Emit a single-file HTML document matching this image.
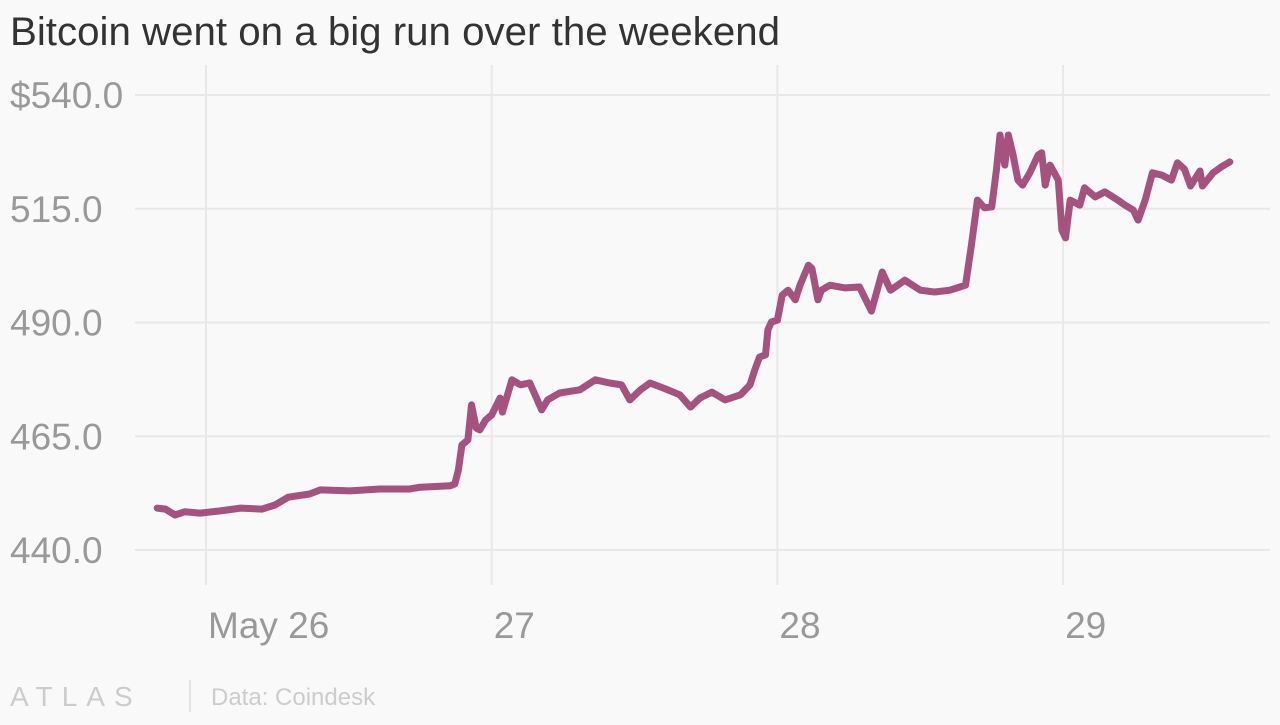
<!DOCTYPE html>
<html><head><meta charset="utf-8"><style>
html,body{margin:0;padding:0;background:#f9f9fa;}
body{width:1280px;height:720px;overflow:hidden;font-family:"Liberation Sans",sans-serif;}
</style></head><body>
<svg width="1280" height="720" xmlns="http://www.w3.org/2000/svg">
<rect width="1280" height="720" fill="#f9f9fa"/>
<text x="10" y="45" font-size="40" fill="#333" textLength="770" lengthAdjust="spacingAndGlyphs">Bitcoin went on a big run over the weekend</text>
<g id="grid"></g>
<g id="ylab"></g>
<g id="xlab"></g>
<path id="line" fill="none" stroke="#a5527f" stroke-width="7" stroke-linejoin="round" stroke-linecap="round"/>
<text x="10" y="706" font-size="28" fill="#ccc" letter-spacing="9">ATLAS</text>
<line x1="190" y1="680" x2="190" y2="712" stroke="#ddd" stroke-width="1.5"/>
<text x="211" y="705" font-size="24" fill="#ccc">Data: Coindesk</text>
</svg>
<script>
const hours=[-4.1,-3.4,-2.6,-1.8,-0.5,1.2,2.9,4.7,5.8,6.9,8.7,9.6,12.1,14.6,17.1,18.0,20.5,20.9,21.2,21.5,22.0,22.3,22.7,23.0,23.5,24.0,24.7,24.9,25.7,26.4,27.2,28.2,28.7,29.7,31.4,32.7,33.9,34.9,35.6,36.5,37.3,38.6,39.8,40.7,41.5,42.5,43.6,44.9,45.7,46.1,46.5,47.0,47.2,47.5,48.0,48.4,48.9,49.5,49.9,50.6,50.9,51.4,51.7,52.4,53.7,54.9,55.9,56.8,57.5,58.7,60.0,61.2,62.5,63.8,64.3,64.8,65.4,66.0,66.4,66.7,67.1,67.4,67.8,68.2,68.6,69.2,69.9,70.2,70.5,70.9,71.6,71.9,72.2,72.6,73.4,73.8,74.7,75.5,76.6,77.2,77.9,78.3,78.9,79.5,80.3,81.1,81.6,82.2,82.7,83.5,83.7,84.6,85.3,86.0];
const prices=[449.2,449.0,447.7,448.4,448.1,448.6,449.2,449.0,449.9,451.6,452.3,453.2,453.0,453.4,453.4,453.8,454.1,454.5,457.6,463.1,464.2,471.9,466.8,466.4,468.6,469.7,473.4,470.3,477.4,476.3,476.7,470.8,473.0,474.5,475.2,477.4,476.7,476.3,473.0,475.2,476.7,475.4,474.1,471.4,473.4,474.7,473.0,474.1,476.3,479.6,482.4,482.9,488.4,490.1,490.5,496.0,497.1,495.0,498.2,502.6,501.9,495.0,497.1,498.2,497.6,497.8,492.5,501.1,497.1,499.3,497.1,496.7,497.1,498.2,507.0,516.9,515.2,515.4,523.5,531.2,524.6,531.2,526.8,521.3,520.2,522.9,526.8,527.3,520.2,524.6,521.3,510.3,508.6,516.9,515.8,519.6,517.6,518.7,516.9,515.8,514.7,512.5,516.9,522.9,522.4,521.3,525.1,523.7,520.0,523.3,520.0,522.9,524.2,525.3];
const yTicks=[440,465,490,515,540];
const xTickHours=[0,24,48,72];
const xTickLabels=["May 26","27","28","29"];
const NS="http://www.w3.org/2000/svg";
function xs(h){return 206+h*(285.7/24);}
function ys(v){return 550-(v-440)*4.55;}
function mk(tag,attrs,parent){const e=document.createElementNS(NS,tag);for(const k in attrs)e.setAttribute(k,attrs[k]);parent.appendChild(e);return e;}
const grid=document.getElementById('grid'),ylab=document.getElementById('ylab'),xlab=document.getElementById('xlab');
yTicks.forEach(v=>{
  const l=mk('line',{x1:135,x2:1270,y1:ys(v),y2:ys(v),stroke:'#e8e8e8','stroke-width':2},grid);
  
  
  const t=mk('text',{x:10,y:ys(v)+13,'font-size':37,fill:'#999'},ylab);
  t.textContent=(v===540?'$':'')+v.toFixed(1);
  
  
});
xTickHours.forEach((h,i)=>{
  const l=mk('line',{x1:xs(h),x2:xs(h),y1:65,y2:585,stroke:'#e8e8e8','stroke-width':2},grid);
  
  
  const t=mk('text',{x:xs(h)+2,y:638,'font-size':37,fill:'#999'},xlab);
  t.textContent=xTickLabels[i];
  
  
});
document.getElementById('line').setAttribute('d',hours.map((h,i)=>(i?'L':'M')+xs(h).toFixed(1)+','+ys(prices[i]).toFixed(1)).join(''));
</script>
</body></html>
